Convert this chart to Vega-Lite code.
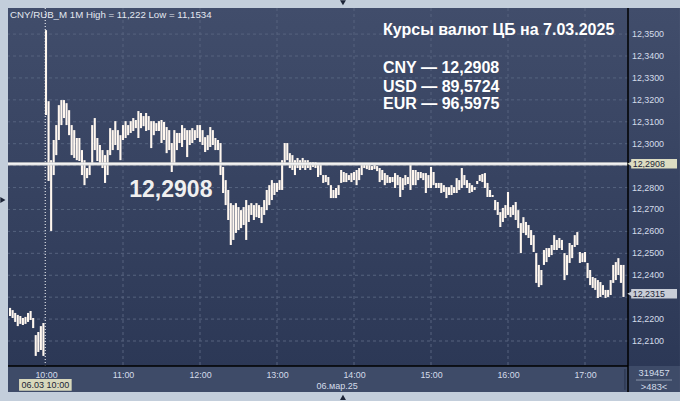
{
"$schema": "https://vega.github.io/schema/vega-lite/v6.json",
"width": 620, "height": 358,
"autosize": {"type": "none"},
"padding": {"left": 8, "top": 8, "right": 52, "bottom": 35},
"background": "#c3cedb",
"config": {
  "view": {"stroke": null},
  "axis": {"grid": false, "ticks": false, "domain": false, "labelFont": "Liberation Sans", "labelColor": "#d4dcea", "labelFontSize": 8.9, "labelPadding": 4},
  "text": {"font": "Liberation Sans"}
},
"datasets": {
  "bars": [
{"t":-28,"h":12.2251,"l":12.2214},{"t":-26,"h":12.2241,"l":12.2205},{"t":-24,"h":12.2228,"l":12.2187},{"t":-22,"h":12.2219,"l":12.2168},{"t":-20,"h":12.2214,"l":12.2178},{"t":-18,"h":12.2205,"l":12.2173},{"t":-16,"h":12.2210,"l":12.2178},{"t":-14,"h":12.2228,"l":12.2187},{"t":-12,"h":12.2237,"l":12.2196},{"t":-10,"h":12.2205,"l":12.2159},{"t":-8,"h":12.2127,"l":12.2032},{"t":-6,"h":12.2141,"l":12.2050},{"t":-4,"h":12.2168,"l":12.2059},{"t":-2,"h":12.2182,"l":12.2032},
{"t":0,"h":12.3518,"l":12.3131},{"t":2,"h":12.3194,"l":12.2830},{"t":4,"h":12.2925,"l":12.2602},{"t":6,"h":12.3017,"l":12.2857},{"t":8,"h":12.3085,"l":12.2948},{"t":10,"h":12.3176,"l":12.3017},{"t":12,"h":12.3199,"l":12.3085},{"t":14,"h":12.3199,"l":12.3117},{"t":16,"h":12.3185,"l":12.3085},{"t":18,"h":12.3153,"l":12.3039},{"t":20,"h":12.3085,"l":12.2948},{"t":22,"h":12.3062,"l":12.2935},{"t":24,"h":12.3026,"l":12.2925},{"t":26,"h":12.3026,"l":12.2921},{"t":28,"h":12.2971,"l":12.2857},{"t":30,"h":12.2925,"l":12.2811},{"t":32,"h":12.2889,"l":12.2843},{"t":34,"h":12.2903,"l":12.2857},{"t":36,"h":12.3085,"l":12.2903},{"t":38,"h":12.3117,"l":12.2971},{"t":40,"h":12.3026,"l":12.2921},{"t":42,"h":12.2994,"l":12.2903},{"t":44,"h":12.2971,"l":12.2889},{"t":46,"h":12.2948,"l":12.2821},{"t":48,"h":12.2971,"l":12.2857},{"t":50,"h":12.3071,"l":12.2948},{"t":52,"h":12.3062,"l":12.2971},{"t":54,"h":12.3103,"l":12.2994},{"t":56,"h":12.3062,"l":12.2971},{"t":58,"h":12.3039,"l":12.2925},
{"t":60,"h":12.3085,"l":12.3017},{"t":62,"h":12.3103,"l":12.3026},{"t":64,"h":12.3085,"l":12.3039},{"t":66,"h":12.3103,"l":12.3049},{"t":68,"h":12.3117,"l":12.3058},{"t":70,"h":12.3108,"l":12.3071},{"t":72,"h":12.3149,"l":12.3026},{"t":74,"h":12.3140,"l":12.3071},{"t":76,"h":12.3126,"l":12.3080},{"t":78,"h":12.3140,"l":12.3058},{"t":80,"h":12.3126,"l":12.3062},{"t":82,"h":12.3103,"l":12.2980},{"t":84,"h":12.3103,"l":12.3039},{"t":86,"h":12.3094,"l":12.3058},{"t":88,"h":12.3103,"l":12.3058},{"t":90,"h":12.3108,"l":12.3003},{"t":92,"h":12.3099,"l":12.3017},{"t":94,"h":12.3076,"l":12.2957},{"t":96,"h":12.3062,"l":12.2971},{"t":98,"h":12.3003,"l":12.2871},{"t":100,"h":12.3062,"l":12.2912},{"t":102,"h":12.3049,"l":12.2971},{"t":104,"h":12.3049,"l":12.3003},{"t":106,"h":12.3085,"l":12.2985},{"t":108,"h":12.3071,"l":12.3017},{"t":110,"h":12.3062,"l":12.2939},{"t":112,"h":12.3062,"l":12.2994},{"t":114,"h":12.3071,"l":12.3003},{"t":116,"h":12.3062,"l":12.3017},{"t":118,"h":12.3085,"l":12.3026},
{"t":120,"h":12.3085,"l":12.3008},{"t":122,"h":12.3062,"l":12.2994},{"t":124,"h":12.3030,"l":12.2962},{"t":126,"h":12.3039,"l":12.2971},{"t":128,"h":12.3076,"l":12.2985},{"t":130,"h":12.3062,"l":12.2994},{"t":132,"h":12.3026,"l":12.2971},{"t":134,"h":12.3017,"l":12.2971},{"t":136,"h":12.3003,"l":12.2857},{"t":138,"h":12.2894,"l":12.2775},{"t":140,"h":12.2834,"l":12.2720},{"t":142,"h":12.2789,"l":12.2652},{"t":144,"h":12.2729,"l":12.2538},{"t":146,"h":12.2720,"l":12.2561},{"t":148,"h":12.2729,"l":12.2593},{"t":150,"h":12.2711,"l":12.2606},{"t":152,"h":12.2697,"l":12.2615},{"t":154,"h":12.2711,"l":12.2629},{"t":156,"h":12.2743,"l":12.2561},{"t":158,"h":12.2720,"l":12.2643},{"t":160,"h":12.2729,"l":12.2675},{"t":162,"h":12.2720,"l":12.2652},{"t":164,"h":12.2729,"l":12.2665},{"t":166,"h":12.2720,"l":12.2661},{"t":168,"h":12.2711,"l":12.2638},{"t":170,"h":12.2743,"l":12.2675},{"t":172,"h":12.2789,"l":12.2697},{"t":174,"h":12.2811,"l":12.2720},{"t":176,"h":12.2834,"l":12.2743},{"t":178,"h":12.2821,"l":12.2766},
{"t":180,"h":12.2821,"l":12.2780},{"t":182,"h":12.2834,"l":12.2789},{"t":184,"h":12.2925,"l":12.2789},{"t":186,"h":12.3003,"l":12.2912},{"t":188,"h":12.3003,"l":12.2925},{"t":190,"h":12.2957,"l":12.2889},{"t":192,"h":12.2948,"l":12.2880},{"t":194,"h":12.2925,"l":12.2857},{"t":196,"h":12.2935,"l":12.2889},{"t":198,"h":12.2925,"l":12.2880},{"t":200,"h":12.2935,"l":12.2889},{"t":202,"h":12.2925,"l":12.2880},{"t":204,"h":12.2925,"l":12.2889},{"t":206,"h":12.2916,"l":12.2880},{"t":208,"h":12.2916,"l":12.2894},{"t":210,"h":12.2916,"l":12.2889},{"t":212,"h":12.2912,"l":12.2848},{"t":214,"h":12.2903,"l":12.2857},{"t":216,"h":12.2857,"l":12.2821},{"t":218,"h":12.2857,"l":12.2825},{"t":220,"h":12.2848,"l":12.2811},{"t":222,"h":12.2811,"l":12.2752},{"t":224,"h":12.2789,"l":12.2752},{"t":226,"h":12.2798,"l":12.2752},{"t":228,"h":12.2811,"l":12.2766},{"t":230,"h":12.2880,"l":12.2821},{"t":232,"h":12.2871,"l":12.2825},{"t":234,"h":12.2866,"l":12.2825},{"t":236,"h":12.2857,"l":12.2834},{"t":238,"h":12.2866,"l":12.2825},
{"t":240,"h":12.2871,"l":12.2834},{"t":242,"h":12.2880,"l":12.2811},{"t":244,"h":12.2889,"l":12.2834},{"t":246,"h":12.2903,"l":12.2857},{"t":248,"h":12.2903,"l":12.2889},{"t":250,"h":12.2903,"l":12.2884},{"t":252,"h":12.2903,"l":12.2880},{"t":254,"h":12.2898,"l":12.2880},{"t":256,"h":12.2903,"l":12.2884},{"t":258,"h":12.2898,"l":12.2875},{"t":260,"h":12.2889,"l":12.2825},{"t":262,"h":12.2880,"l":12.2834},{"t":264,"h":12.2866,"l":12.2811},{"t":266,"h":12.2857,"l":12.2821},{"t":268,"h":12.2848,"l":12.2821},{"t":270,"h":12.2848,"l":12.2825},{"t":272,"h":12.2866,"l":12.2798},{"t":274,"h":12.2857,"l":12.2811},{"t":276,"h":12.2848,"l":12.2757},{"t":278,"h":12.2843,"l":12.2789},{"t":280,"h":12.2857,"l":12.2811},{"t":282,"h":12.2848,"l":12.2816},{"t":284,"h":12.2903,"l":12.2789},{"t":286,"h":12.2880,"l":12.2811},{"t":288,"h":12.2880,"l":12.2811},{"t":290,"h":12.2871,"l":12.2834},{"t":292,"h":12.2871,"l":12.2843},{"t":294,"h":12.2866,"l":12.2834},{"t":296,"h":12.2866,"l":12.2775},{"t":298,"h":12.2857,"l":12.2798},
{"t":300,"h":12.2894,"l":12.2798},{"t":302,"h":12.2871,"l":12.2811},{"t":304,"h":12.2821,"l":12.2798},{"t":306,"h":12.2821,"l":12.2798},{"t":308,"h":12.2821,"l":12.2775},{"t":310,"h":12.2811,"l":12.2780},{"t":312,"h":12.2802,"l":12.2752},{"t":314,"h":12.2802,"l":12.2766},{"t":316,"h":12.2811,"l":12.2766},{"t":318,"h":12.2802,"l":12.2775},{"t":320,"h":12.2843,"l":12.2775},{"t":322,"h":12.2834,"l":12.2789},{"t":324,"h":12.2889,"l":12.2798},{"t":326,"h":12.2857,"l":12.2811},{"t":328,"h":12.2834,"l":12.2798},{"t":330,"h":12.2821,"l":12.2775},{"t":332,"h":12.2811,"l":12.2780},{"t":334,"h":12.2802,"l":12.2789},{"t":336,"h":12.2830,"l":12.2816},{"t":338,"h":12.2857,"l":12.2830},{"t":340,"h":12.2862,"l":12.2825},{"t":342,"h":12.2866,"l":12.2798},{"t":344,"h":12.2821,"l":12.2757},{"t":346,"h":12.2789,"l":12.2757},{"t":348,"h":12.2766,"l":12.2757},{"t":350,"h":12.2743,"l":12.2697},{"t":352,"h":12.2734,"l":12.2675},{"t":354,"h":12.2688,"l":12.2620},{"t":356,"h":12.2707,"l":12.2643},{"t":358,"h":12.2720,"l":12.2661},
{"t":360,"h":12.2780,"l":12.2675},{"t":362,"h":12.2711,"l":12.2665},{"t":364,"h":12.2720,"l":12.2675},{"t":366,"h":12.2734,"l":12.2652},{"t":368,"h":12.2697,"l":12.2615},{"t":370,"h":12.2638,"l":12.2501},{"t":372,"h":12.2665,"l":12.2593},{"t":374,"h":12.2643,"l":12.2583},{"t":376,"h":12.2629,"l":12.2570},{"t":378,"h":12.2606,"l":12.2538},{"t":380,"h":12.2583,"l":12.2506},{"t":382,"h":12.2501,"l":12.2365},{"t":384,"h":12.2447,"l":12.2346},{"t":386,"h":12.2424,"l":12.2355},{"t":388,"h":12.2515,"l":12.2447},{"t":390,"h":12.2524,"l":12.2460},{"t":392,"h":12.2524,"l":12.2483},{"t":394,"h":12.2538,"l":12.2492},{"t":396,"h":12.2583,"l":12.2515},{"t":398,"h":12.2561,"l":12.2515},{"t":400,"h":12.2570,"l":12.2524},{"t":402,"h":12.2561,"l":12.2515},{"t":404,"h":12.2501,"l":12.2378},{"t":406,"h":12.2492,"l":12.2401},{"t":408,"h":12.2547,"l":12.2456},{"t":410,"h":12.2538,"l":12.2478},{"t":412,"h":12.2583,"l":12.2529},{"t":414,"h":12.2597,"l":12.2538},{"t":416,"h":12.2506,"l":12.2456},{"t":418,"h":12.2501,"l":12.2460},
{"t":420,"h":12.2506,"l":12.2460},{"t":422,"h":12.2456,"l":12.2387},{"t":424,"h":12.2424,"l":12.2355},{"t":426,"h":12.2392,"l":12.2342},{"t":428,"h":12.2387,"l":12.2333},{"t":430,"h":12.2378,"l":12.2296},{"t":432,"h":12.2369,"l":12.2301},{"t":434,"h":12.2355,"l":12.2310},{"t":436,"h":12.2333,"l":12.2296},{"t":438,"h":12.2333,"l":12.2301},{"t":440,"h":12.2378,"l":12.2310},{"t":442,"h":12.2447,"l":12.2365},{"t":444,"h":12.2460,"l":12.2378},{"t":446,"h":12.2478,"l":12.2401},{"t":448,"h":12.2447,"l":12.2365},{"t":450,"h":12.2447,"l":12.2301}
  ],
  "hgrid": [{"v":12.21},{"v":12.22},{"v":12.23},{"v":12.24},{"v":12.25},{"v":12.26},{"v":12.27},{"v":12.28},{"v":12.29},{"v":12.30},{"v":12.31},{"v":12.32},{"v":12.33},{"v":12.34},{"v":12.35}],
  "ylab": [{"v":12.21,"s":"12,2100"},{"v":12.22,"s":"12,2200"},{"v":12.24,"s":"12,2400"},{"v":12.25,"s":"12,2500"},{"v":12.26,"s":"12,2600"},{"v":12.27,"s":"12,2700"},{"v":12.28,"s":"12,2800"},{"v":12.30,"s":"12,3000"},{"v":12.31,"s":"12,3100"},{"v":12.32,"s":"12,3200"},{"v":12.33,"s":"12,3300"},{"v":12.34,"s":"12,3400"},{"v":12.35,"s":"12,3500"}],
  "vgrid": [{"t":60},{"t":120},{"t":180},{"t":240},{"t":300},{"t":360},{"t":420}]
},
"layer": [
  {"data": {"values": [{}]}, "mark": {"type": "rect", "color": {"gradient": "linear", "x1": 0, "y1": 0, "x2": 0, "y2": 1, "stops": [{"offset": 0, "color": "#414d6b"}, {"offset": 1, "color": "#2c3856"}]}},
   "encoding": {
     "x": {"datum": -29.61, "type": "quantitative", "scale": {"domain": [-29.61, 453.5], "nice": false, "zero": false},
           "axis": {"title": null, "zindex": 1, "labelOverlap": false, "labelFlush": false, "values": [0, 60, 120, 180, 240, 300, 360, 420], "labelExpr": "format(10 + datum.value / 60, 'd') + ':00'", "labelBaseline": "top", "labelPadding": 4}},
     "x2": {"datum": 494},
     "y": {"datum": 12.3619, "type": "quantitative", "scale": {"domain": [12.1986, 12.3619], "nice": false, "zero": false},
           "axis": {"title": null, "orient": "right", "labels": false, "values": [12.25]}},
     "y2": {"datum": 12.1986}}},
  {"data": {"values": [{}]}, "mark": {"type": "rect", "color": "#3e4b68"},
   "encoding": {"x": {"datum": -29.61, "type": "quantitative"}, "x2": {"datum": 494}, "y": {"datum": 12.1986, "type": "quantitative"}, "y2": {"datum": 12.1867}}},
  {"data": {"name": "hgrid"}, "mark": {"type": "rule", "color": "#56637f", "strokeWidth": 1, "strokeDash": [3, 3]},
   "encoding": {"y": {"field": "v", "type": "quantitative"}}},
  {"data": {"name": "vgrid"}, "mark": {"type": "rule", "color": "#56637f", "strokeWidth": 1, "strokeDash": [3, 3]},
   "encoding": {"x": {"field": "t", "type": "quantitative"}}},
  {"data": {"values": [{}]}, "mark": {"type": "rule", "color": "#ffffff", "strokeWidth": 1, "strokeDash": [1, 2]},
   "encoding": {"x": {"datum": -0.6, "type": "quantitative"}}},
  {"data": {"name": "bars"}, "mark": {"type": "rule", "color": "#fff7ef", "strokeWidth": 2.1},
   "encoding": {
     "x": {"field": "t", "type": "quantitative"},
     "y": {"field": "h", "type": "quantitative"},
     "y2": {"field": "l"}}},
  {"data": {"values": [{}]}, "mark": {"type": "rule", "color": "#cfcfcf", "strokeWidth": 3.2},
   "encoding": {"y": {"datum": 12.2908, "type": "quantitative"}}},
  {"data": {"values": [{}]}, "mark": {"type": "rule", "color": "#ffffff", "strokeWidth": 1.3},
   "encoding": {"y": {"datum": 12.2908, "type": "quantitative"}}},
  {"data": {"values": [{}]}, "mark": {"type": "rule", "color": "#000000", "strokeWidth": 1.5},
   "encoding": {"x": {"datum": -29.61, "type": "quantitative"}, "x2": {"datum": 453.5}, "y": {"datum": 12.1986, "type": "quantitative"}}},
  {"data": {"values": [{}]}, "mark": {"type": "rule", "color": "#000000", "strokeWidth": 1.5},
   "encoding": {"x": {"datum": 453.5, "type": "quantitative"}, "y": {"datum": 12.3619, "type": "quantitative"}, "y2": {"datum": 12.1867}}},
  {"data": {"values": [{}]}, "mark": {"type": "rule", "color": "#27324b", "strokeWidth": 1},
   "encoding": {"x": {"datum": 451.1, "type": "quantitative"}, "y": {"datum": 12.1972, "type": "quantitative"}, "y2": {"datum": 12.1877}}},
  {"data": {"values": [{}]}, "mark": {"type": "rule", "color": "#8a95aa", "strokeWidth": 1},
   "encoding": {"x": {"datum": 459.7, "type": "quantitative"}, "x2": {"datum": 487.8}, "y": {"datum": 12.1922, "type": "quantitative"}}},
  {"data": {"name": "ylab"}, "mark": {"type": "text", "align": "left", "baseline": "middle", "fontSize": 8.9, "color": "#d4dcea"},
   "encoding": {"x": {"datum": 456.6, "type": "quantitative"}, "y": {"field": "v", "type": "quantitative"}, "text": {"field": "s"}}},
  {"data": {"values": [{"tx": "12,2908", "v": 12.2908, "c": "#dcdcc2"}, {"tx": "12,2315", "v": 12.2315, "c": "#c8cdd7"}]}, "mark": {"type": "point", "shape": "triangle-left", "filled": true, "size": 45, "opacity": 1},
   "encoding": {"x": {"datum": 455.3, "type": "quantitative"}, "y": {"field": "v", "type": "quantitative"}, "color": {"field": "c", "type": "nominal", "scale": null}}},
  {"data": {"values": [{"tx": "12,2908", "v": 12.2908, "c": "#dcdcc2"}, {"tx": "12,2315", "v": 12.2315, "c": "#c8cdd7"}]}, "mark": {"type": "rect", "height": 9.5},
   "encoding": {"x": {"datum": 456, "type": "quantitative"}, "x2": {"datum": 491.7}, "y": {"field": "v", "type": "quantitative"}, "color": {"field": "c", "type": "nominal", "scale": null}}},
  {"data": {"values": [{"tx": "12,2908", "v": 12.2908}, {"tx": "12,2315", "v": 12.2315}]}, "mark": {"type": "text", "align": "left", "baseline": "middle", "fontSize": 8.9, "color": "#1b2436"},
   "encoding": {"x": {"datum": 457.2, "type": "quantitative"}, "y": {"field": "v", "type": "quantitative"}, "text": {"field": "tx"}}},
  {"data": {"values": [{}]}, "mark": {"type": "rect", "color": "#d8d8bc"},
   "encoding": {"x": {"datum": -21.0, "type": "quantitative"}, "x2": {"datum": 20.0}, "y": {"datum": 12.1927, "type": "quantitative"}, "y2": {"datum": 12.1873}}},
  {"data": {"values": [{"tx": "06.03 10:00"}]}, "mark": {"type": "text", "align": "center", "baseline": "middle", "fontSize": 9, "color": "#1b2436"},
   "encoding": {"x": {"datum": -0.5, "type": "quantitative"}, "y": {"datum": 12.1900, "type": "quantitative"}, "text": {"field": "tx"}}},
  {"data": {"values": [{"tx": "06.мар.25"}]}, "mark": {"type": "text", "align": "center", "baseline": "middle", "fontSize": 9, "color": "#d4dcea"},
   "encoding": {"x": {"datum": 226.8, "type": "quantitative"}, "y": {"datum": 12.1896, "type": "quantitative"}, "text": {"field": "tx"}}},
  {"data": {"values": [{"tx": "319457", "v": 12.1954}, {"tx": ">483<", "v": 12.1892}]}, "mark": {"type": "text", "align": "center", "baseline": "middle", "fontSize": 9.3, "color": "#d4dcea"},
   "encoding": {"x": {"datum": 473.8, "type": "quantitative"}, "y": {"field": "v", "type": "quantitative"}, "text": {"field": "tx"}}},
  {"data": {"values": [{"tx": "CNY/RUB_M 1M High = 11,222 Low = 11,1534"}]}, "mark": {"type": "text", "align": "left", "baseline": "alphabetic", "fontSize": 9.7, "color": "#e4e8f0"},
   "encoding": {"x": {"datum": -28.05, "type": "quantitative"}, "y": {"datum": 12.3572, "type": "quantitative"}, "text": {"field": "tx"}}},
  {"data": {"values": [{"tx": "Курсы валют ЦБ на 7.03.2025", "v": 12.3495}, {"tx": "CNY — 12,2908", "v": 12.3323}, {"tx": "USD — 89,5724", "v": 12.3235}, {"tx": "EUR — 96,5975", "v": 12.3158}]}, "mark": {"type": "text", "align": "left", "baseline": "alphabetic", "fontSize": 16, "fontWeight": "bold", "color": "#ffffff"},
   "encoding": {"x": {"datum": 262.6, "type": "quantitative"}, "y": {"field": "v", "type": "quantitative"}, "text": {"field": "tx"}}},
  {"data": {"values": [{"tx": "12,2908"}]}, "mark": {"type": "text", "align": "left", "baseline": "alphabetic", "fontSize": 23, "fontWeight": "bold", "color": "#f0f0f0"},
   "encoding": {"x": {"datum": 64.9, "type": "quantitative"}, "y": {"datum": 12.2755, "type": "quantitative"}, "text": {"field": "tx"}}},
  {"data": {"values": [{"s": "triangle-down", "t": 231.4, "v": 12.3643}, {"s": "triangle-up", "t": 231.4, "v": 12.1843}, {"s": "triangle-right", "t": -33.6, "v": 12.2743}]}, "mark": {"type": "point", "filled": true, "size": 35, "color": "#1c2437", "opacity": 1},
   "encoding": {"x": {"field": "t", "type": "quantitative"}, "y": {"field": "v", "type": "quantitative"}, "shape": {"field": "s", "type": "nominal", "scale": null}}}
]
}
